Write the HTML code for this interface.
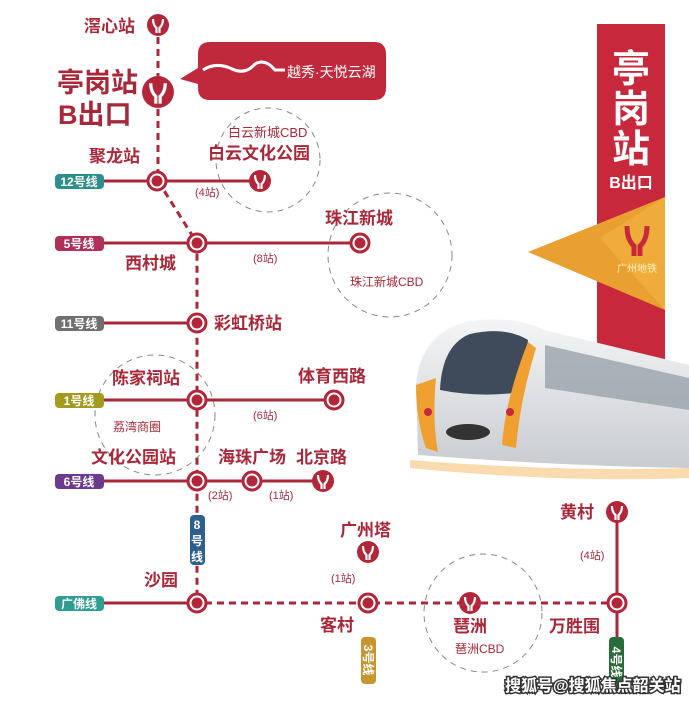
<!DOCTYPE html>
<html><head><meta charset="utf-8"><style>
html,body{margin:0;padding:0;background:#fff;}
svg{display:block;font-family:"Liberation Sans","Noto Sans CJK SC",sans-serif;}
.t{fill:#a8283a;font-weight:bold;}
.b{fill:#fff;font-weight:bold;font-size:12px;}
</style></head><body>
<svg width="689" height="701" viewBox="0 0 689 701" xmlns="http://www.w3.org/2000/svg">
<defs>
<g id="st"><circle r="9" fill="#fff" stroke="#b3263a" stroke-width="3"/><circle r="5.5" fill="#b3263a"/></g>
<g id="ic"><circle r="11" fill="#b3263a"/><path d="M-5,-6 Q-5,0 -1.5,3 L-1.5,8 M5,-6 Q5,0 1.5,3 L1.5,8" stroke="#fff" stroke-width="2.2" fill="none"/></g>
<linearGradient id="body" x1="0" y1="0" x2="0" y2="1"><stop offset="0" stop-color="#f4f5f6"/><stop offset="1" stop-color="#c9ccd0"/></linearGradient>
</defs>
<!-- right banner -->
<rect x="597" y="24" width="68" height="356" fill="#c8283c"/>
<polygon points="528,252 665,197 665,310" fill="#e9a030"/>
<polygon points="600,238 665,197 665,310" fill="#f0ac3a"/>
<text x="631" y="82" font-size="38" fill="#fff" font-weight="bold" text-anchor="middle">亭</text>
<text x="631" y="122" font-size="38" fill="#fff" font-weight="bold" text-anchor="middle">岗</text>
<text x="631" y="162" font-size="38" fill="#fff" font-weight="bold" text-anchor="middle">站</text>
<text x="631" y="188" font-size="16" fill="#fff" font-weight="bold" text-anchor="middle">B出口</text>
<path d="M627,226 Q627,240 634,246 L634,256 M647,226 Q647,240 640,246 L640,256" stroke="#c8283c" stroke-width="5" fill="none"/>
<text x="637" y="272" font-size="10" fill="#fff3c0" text-anchor="middle">广州地铁</text>
<!-- train -->
<path d="M418,455 L416,385 Q420,335 465,322 Q510,314 545,330 L689,365 L689,468 Q560,466 418,455 Z" fill="url(#body)"/>
<path d="M440,390 Q442,345 470,334 Q505,326 528,340 L522,392 Q480,398 440,390 Z" fill="#3f4b5a"/>
<path d="M416,385 Q416,420 426,448 L438,452 Q432,420 436,378 Z" fill="#f0a030"/>
<path d="M502,445 Q505,400 528,342 L536,348 Q520,400 516,448 Z" fill="#f0a030"/>
<path d="M545,345 L689,378 L689,410 L545,388 Z" fill="#9aa3ab" opacity="0.8"/>
<ellipse cx="468" cy="432" rx="22" ry="8" fill="#333"/>
<circle cx="428" cy="412" r="4" fill="#c8283c"/><circle cx="510" cy="412" r="4" fill="#c8283c"/>
<path d="M410,460 Q560,472 689,468 L689,478 Q560,483 410,468Z" fill="#f6c27a" opacity="0.6"/>
<!-- callout -->
<path d="M210,42 H374 Q386,42 386,54 V88 Q386,100 374,100 H210 Q198,100 198,88 V84 L180,79 L198,68 V54 Q198,42 210,42Z" fill="#c0283c"/>
<path d="M203,70 Q215,62 230,68 Q245,76 255,64 Q265,58 275,70 L285,70" stroke="#fff" stroke-width="3" fill="none"/>
<text x="287" y="77" font-size="14" fill="#fff">越秀·天悦云湖</text>
<!-- dashed circles -->
<g fill="none" stroke="#888" stroke-width="1" stroke-dasharray="6,5">
<circle cx="268" cy="160" r="52"/><circle cx="390" cy="255" r="62"/>
<circle cx="155" cy="415" r="60"/><circle cx="483" cy="613" r="59"/>
</g>
<!-- dashed main line -->
<g stroke="#a8283a" stroke-width="3" stroke-dasharray="7,5" fill="none">
<path d="M158,37 V181 L197,243 V603"/>
<path d="M205,603 H612"/>
</g>
<!-- solid lines -->
<g stroke="#a8283a" stroke-width="3">
<line x1="104" y1="181" x2="260" y2="181"/><line x1="104" y1="243" x2="360" y2="243"/>
<line x1="104" y1="323" x2="197" y2="323"/><line x1="104" y1="400" x2="334" y2="400"/>
<line x1="104" y1="481" x2="323" y2="481"/><line x1="104" y1="603" x2="197" y2="603"/>
<line x1="617" y1="512" x2="617" y2="645"/>
</g>
<!-- badges -->
<g>
<rect x="55" y="174" width="49" height="15" rx="4" fill="#2e8f8a"/><text x="79" y="186" class="b" text-anchor="middle">12号线</text>
<rect x="55" y="236" width="49" height="15" rx="4" fill="#b0305a"/><text x="79" y="248" class="b" text-anchor="middle">5号线</text>
<rect x="55" y="316" width="49" height="15" rx="4" fill="#707070"/><text x="79" y="328" class="b" text-anchor="middle">11号线</text>
<rect x="55" y="393" width="49" height="15" rx="4" fill="#a39a1e"/><text x="79" y="405" class="b" text-anchor="middle">1号线</text>
<rect x="55" y="474" width="49" height="15" rx="4" fill="#6b3a8a"/><text x="79" y="486" class="b" text-anchor="middle">6号线</text>
<rect x="55" y="596" width="49" height="15" rx="4" fill="#2e9e93"/><text x="79" y="608" class="b" text-anchor="middle">广佛线</text>
<rect x="190" y="515" width="15" height="50" rx="4" fill="#2e5f8e"/>
<text x="197" y="529" class="b" text-anchor="middle">8</text><text x="197" y="545" class="b" text-anchor="middle">号</text><text x="197" y="561" class="b" text-anchor="middle">线</text>
<rect x="361" y="637" width="15" height="47" rx="4" fill="#c8962e"/>
<text transform="translate(368,660) rotate(90)" class="b" text-anchor="middle" dy="4">3号线</text>
<rect x="609" y="637" width="15" height="54" rx="4" fill="#2a6b3a"/>
<text transform="translate(616,662) rotate(90)" class="b" text-anchor="middle" dy="4">4号线</text>
</g>
<!-- stations -->
<use href="#ic" x="158" y="25"/>
<g transform="translate(158,92) scale(1.45)"><use href="#ic"/></g>
<use href="#st" x="157" y="181"/><use href="#ic" x="260" y="181"/>
<use href="#st" x="197" y="243"/><use href="#st" x="360" y="243"/>
<use href="#st" x="197" y="323"/>
<use href="#st" x="197" y="400"/><use href="#st" x="334" y="400"/>
<use href="#st" x="197" y="481"/><use href="#st" x="252" y="481"/><use href="#ic" x="323" y="481"/>
<use href="#st" x="197" y="603"/><use href="#st" x="368" y="603"/>
<use href="#ic" x="368" y="552"/><use href="#ic" x="470" y="603"/>
<use href="#st" x="617" y="603"/><use href="#ic" x="617" y="512"/>
<!-- labels -->
<text x="84" y="32" class="t" font-size="17">滘心站</text>
<text x="57" y="92" class="t" font-size="27">亭岗站</text>
<text x="58" y="124" class="t" font-size="27">B出口</text>
<text x="228" y="137" fill="#a8283a" font-size="13">白云新城CBD</text>
<text x="208" y="159" class="t" font-size="17">白云文化公园</text>
<text x="89" y="162" class="t" font-size="17">聚龙站</text>
<text x="195" y="196" fill="#a8283a" font-size="11">(4站)</text>
<text x="325" y="224" class="t" font-size="17">珠江新城</text>
<text x="125" y="269" class="t" font-size="17">西村城</text>
<text x="253" y="262" fill="#a8283a" font-size="11">(8站)</text>
<text x="350" y="286" fill="#a8283a" font-size="12">珠江新城CBD</text>
<text x="214" y="329" class="t" font-size="17">彩虹桥站</text>
<text x="112" y="384" class="t" font-size="17">陈家祠站</text>
<text x="298" y="382" class="t" font-size="17">体育西路</text>
<text x="253" y="419" fill="#a8283a" font-size="11">(6站)</text>
<text x="113" y="431" fill="#a8283a" font-size="12">荔湾商圈</text>
<text x="91" y="463" class="t" font-size="17">文化公园站</text>
<text x="218" y="463" class="t" font-size="17">海珠广场</text>
<text x="296" y="463" class="t" font-size="17">北京路</text>
<text x="208" y="499" fill="#a8283a" font-size="11">(2站)</text>
<text x="269" y="499" fill="#a8283a" font-size="11">(1站)</text>
<text x="144" y="586" class="t" font-size="17">沙园</text>
<text x="340" y="536" class="t" font-size="17">广州塔</text>
<text x="331" y="582" fill="#a8283a" font-size="11">(1站)</text>
<text x="320" y="631" class="t" font-size="17">客村</text>
<text x="453" y="632" class="t" font-size="17">琶洲</text>
<text x="455" y="653" fill="#a8283a" font-size="12">琶洲CBD</text>
<text x="549" y="632" class="t" font-size="17">万胜围</text>
<text x="560" y="518" class="t" font-size="17">黄村</text>
<text x="580" y="559" fill="#a8283a" font-size="11">(4站)</text>
<text x="505" y="691" font-size="16" fill="#fff" stroke="#333" stroke-width="3" paint-order="stroke" font-weight="bold">搜狐号@搜狐焦点韶关站</text>
</svg>
</body></html>
